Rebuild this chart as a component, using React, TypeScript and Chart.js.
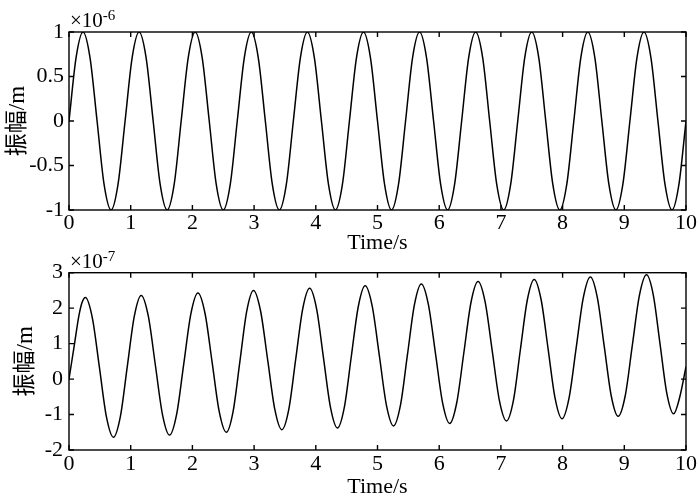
import { useEffect, useRef } from "react";
import { Chart, registerables } from "chart.js";

Chart.register(...registerables);

// ---- Data ----
// Upper panel: amplitude in units of 1e-6 m
const timeTop = [
  0, 0.114, 0.227, 0.341, 0.455, 0.568, 0.682, 0.795,
  0.909, 1.023, 1.136, 1.25, 1.364, 1.477, 1.591, 1.705,
  1.818, 1.932, 2.045, 2.159, 2.273, 2.386, 2.5, 2.614,
  2.727, 2.841, 2.955, 3.068, 3.182, 3.295, 3.409, 3.523,
  3.636, 3.75, 3.864, 3.977, 4.091, 4.205, 4.318, 4.432,
  4.545, 4.659, 4.773, 4.886, 5, 5.114, 5.227, 5.341,
  5.455, 5.568, 5.682, 5.795, 5.909, 6.023, 6.136, 6.25,
  6.364, 6.477, 6.591, 6.705, 6.818, 6.932, 7.045, 7.159,
  7.273, 7.386, 7.5, 7.614, 7.727, 7.841, 7.955, 8.068,
  8.182, 8.295, 8.409, 8.523, 8.636, 8.75, 8.864, 8.977,
  9.091, 9.205, 9.318, 9.432, 9.545, 9.659, 9.773, 9.886,
  10,
];
const ampTop = [
  0, 0.71, 1, 0.71, 0, -0.71, -1, -0.71,
  0, 0.71, 1, 0.71, 0, -0.71, -1, -0.71,
  0, 0.71, 1, 0.71, 0, -0.71, -1, -0.71,
  0, 0.71, 1, 0.71, 0, -0.71, -1, -0.71,
  0, 0.71, 1, 0.71, 0, -0.71, -1, -0.71,
  0, 0.71, 1, 0.71, 0, -0.71, -1, -0.71,
  0, 0.71, 1, 0.71, 0, -0.71, -1, -0.71,
  0, 0.71, 1, 0.71, 0, -0.71, -1, -0.71,
  0, 0.71, 1, 0.71, 0, -0.71, -1, -0.71,
  0, 0.71, 1, 0.71, 0, -0.71, -1, -0.71,
  0, 0.71, 1, 0.71, 0, -0.71, -1, -0.71,
  0,
];

// Lower panel: amplitude in units of 1e-7 m
const timeBottom = [
  0, 0.09, 0.16, 0.21, 0.265,
  0.379, 0.493, 0.606, 0.72,
  0.833, 0.945, 1.058, 1.17,
  1.285, 1.4, 1.515, 1.63,
  1.745, 1.86, 1.975, 2.09,
  2.205, 2.32, 2.435, 2.55,
  2.66, 2.77, 2.88, 2.99,
  3.105, 3.22, 3.335, 3.45,
  3.563, 3.675, 3.788, 3.9,
  4.013, 4.125, 4.238, 4.35,
  4.463, 4.575, 4.688, 4.8,
  4.915, 5.03, 5.145, 5.26,
  5.373, 5.485, 5.598, 5.71,
  5.825, 5.94, 6.055, 6.17,
  6.285, 6.4, 6.515, 6.63,
  6.745, 6.86, 6.975, 7.09,
  7.203, 7.315, 7.428, 7.54,
  7.653, 7.765, 7.878, 7.99,
  8.105, 8.22, 8.335, 8.45,
  8.563, 8.675, 8.788, 8.9,
  9.015, 9.13, 9.245, 9.36,
  9.47, 9.58, 9.69, 9.8,
  9.9, 10,
];
const ampBottom = [
  0, 1.0, 1.78, 2.15, 2.3,
  1.72, 0.33, -1.06, -1.64,
  -1.05, 0.36, 1.77, 2.36,
  1.78, 0.39, -1.0, -1.58,
  -0.99, 0.43, 1.84, 2.43,
  1.85, 0.47, -0.92, -1.5,
  -0.91, 0.5, 1.91, 2.5,
  1.92, 0.54, -0.85, -1.43,
  -0.85, 0.57, 1.98, 2.56,
  1.98, 0.59, -0.8, -1.38,
  -0.79, 0.63, 2.04, 2.63,
  2.05, 0.66, -0.74, -1.32,
  -0.73, 0.68, 2.09, 2.68,
  2.1, 0.72, -0.67, -1.25,
  -0.66, 0.75, 2.16, 2.75,
  2.17, 0.79, -0.6, -1.18,
  -0.6, 0.82, 2.23, 2.81,
  2.23, 0.85, -0.54, -1.12,
  -0.53, 0.88, 2.29, 2.88,
  2.3, 0.92, -0.47, -1.05,
  -0.47, 0.95, 2.36, 2.94,
  2.37, 0.98, -0.41, -0.98,
  -0.5, 0.35,
];

const xTickValues = [0, 1, 2, 3, 4, 5, 6, 7, 8, 9, 10];
const yRangeTop = [-1, 1];
const yStepTop = 0.5;
const yRangeBottom = [-2, 3];
const yStepBottom = 1;
const exponentTop = "-6";
const exponentBottom = "-7";
const xTitle = "Time/s";
const yTitle = "振幅/m";

const SERIF = '"Liberation Serif", "Times New Roman", "Noto Sans CJK SC", serif';

const matlabAxes = {
  id: "matlabAxes",
  afterDraw(chart: any) {
    const { ctx, chartArea } = chart;
    const { left, top, right, bottom } = chartArea;
    const xs = chart.scales.x;
    const ys = chart.scales.y;
    const exp = chart.options.plugins.matlabAxes.exponent;
    ctx.save();
    ctx.strokeStyle = "#000";
    ctx.lineWidth = 1.4;
    ctx.strokeRect(left, top, right - left, bottom - top);
    const tl = 5;
    ctx.beginPath();
    xs.ticks.forEach((t: any) => {
      const px = xs.getPixelForValue(t.value);
      ctx.moveTo(px, bottom);
      ctx.lineTo(px, bottom - tl);
      ctx.moveTo(px, top);
      ctx.lineTo(px, top + tl);
    });
    ys.ticks.forEach((t: any) => {
      const py = ys.getPixelForValue(t.value);
      ctx.moveTo(left, py);
      ctx.lineTo(left + tl, py);
      ctx.moveTo(right, py);
      ctx.lineTo(right - tl, py);
    });
    ctx.stroke();
    ctx.fillStyle = "#000";
    ctx.textBaseline = "alphabetic";
    ctx.textAlign = "left";
    ctx.font = `21px ${SERIF}`;
    const base = "×10";
    ctx.fillText(base, left + 1, top - 5);
    const w = ctx.measureText(base).width;
    ctx.font = `15px ${SERIF}`;
    ctx.fillText(exp, left + 1 + w, top - 12);
    ctx.restore();
  },
};

function makeConfig(
  times: number[],
  amps: number[],
  yRange: number[],
  yStep: number,
  exponent: string,
  padTop: number,
  xAxisHeight: number,
  yTitlePad: number,
  yTickPad: number,
  xTickPad: number
): any {
  const data = times.map((t, i) => ({ x: t, y: amps[i] }));
  return {
    type: "line",
    data: {
      datasets: [
        {
          data,
          borderColor: "#000",
          borderWidth: 1.5,
          pointRadius: 0,
          fill: false,
          cubicInterpolationMode: "monotone",
        },
      ],
    },
    plugins: [matlabAxes],
    options: {
      responsive: false,
      animation: false,
      events: [],
      layout: { padding: { top: padTop, right: 14, left: 0, bottom: 0 } },
      plugins: {
        legend: { display: false },
        tooltip: { enabled: false },
        matlabAxes: { exponent },
      },
      scales: {
        x: {
          type: "linear",
          min: 0,
          max: 10,
          afterBuildTicks: (scale: any) => {
            scale.ticks = xTickValues.map((v) => ({ value: v }));
          },
          afterFit: (scale: any) => {
            scale.height = xAxisHeight;
          },
          grid: { display: false, drawTicks: false },
          border: { display: false },
          ticks: {
            color: "#000",
            font: { family: SERIF, size: 22, lineHeight: 1 },
            padding: xTickPad,
            autoSkip: false,
            maxRotation: 0,
            callback: (v: any) => String(Number(v)),
          },
          title: {
            display: true,
            text: xTitle,
            color: "#000",
            font: { family: SERIF, size: 22, lineHeight: 1 },
            padding: { top: 0, bottom: 0 },
          },
        },
        y: {
          type: "linear",
          min: yRange[0],
          max: yRange[1],
          afterFit: (scale: any) => {
            scale.width = 69;
          },
          grid: { display: false, drawTicks: false },
          border: { display: false },
          ticks: {
            stepSize: yStep,
            color: "#000",
            font: { family: SERIF, size: 22, lineHeight: 1 },
            padding: yTickPad,
            callback: (v: any) => String(Number(v)),
          },
          title: {
            display: true,
            text: yTitle,
            color: "#000",
            font: { family: SERIF, size: 23, lineHeight: 1 },
            padding: { top: yTitlePad, bottom: 0 },
          },
        },
      },
    },
  };
}

export default function App() {
  const topRef = useRef<HTMLCanvasElement>(null);
  const bottomRef = useRef<HTMLCanvasElement>(null);

  useEffect(() => {
    const c1 = new Chart(
      topRef.current as HTMLCanvasElement,
      makeConfig(timeTop, ampTop, yRangeTop, yStepTop, exponentTop, 32, 44, 6, 5, 2)
    );
    const c2 = new Chart(
      bottomRef.current as HTMLCanvasElement,
      makeConfig(timeBottom, ampBottom, yRangeBottom, yStepBottom, exponentBottom, 28.7, 48, 14.5, 6, 3)
    );
    return () => {
      c1.destroy();
      c2.destroy();
    };
  }, []);

  return (
    <div style={{ position: "fixed", left: 0, top: 0, width: 700, height: 498, background: "#fff" }}>
      <canvas
        ref={topRef}
        width={700}
        height={254}
        style={{ position: "absolute", left: 0, top: 0, width: 700, height: 254 }}
      />
      <canvas
        ref={bottomRef}
        width={700}
        height={254}
        style={{ position: "absolute", left: 0, top: 244, width: 700, height: 254 }}
      />
    </div>
  );
}
